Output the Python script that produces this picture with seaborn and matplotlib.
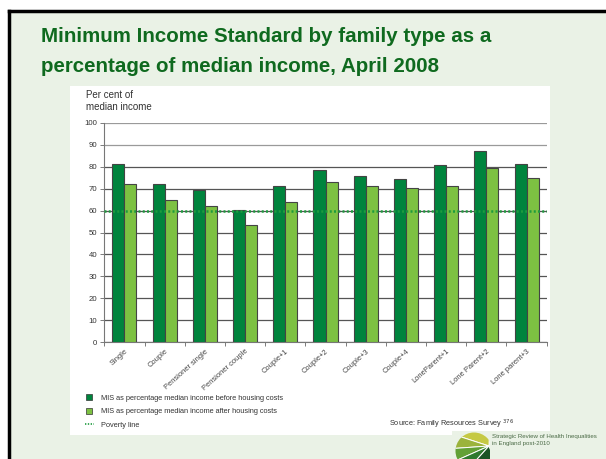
import matplotlib
matplotlib.use("Agg")
import matplotlib.pyplot as plt
from matplotlib.lines import Line2D
from matplotlib.patches import Rectangle, Wedge, Circle
import seaborn as sns
import pandas as pd
import numpy as np

# Data
family_types = ["Single", "Couple", "Pensioner single", "Pensioner couple",
                "Couple+1", "Couple+2", "Couple+3", "Couple+4",
                "LoneParent+1", "Lone Parent+2", "Lone parent+3"]
before_housing = [81.0, 72.0, 69.5, 60.4, 71.2, 78.5, 75.7, 74.2, 80.6, 87.1, 81.2]
after_housing = [71.9, 64.6, 61.9, 53.3, 63.9, 72.8, 71.2, 70.3, 71.2, 79.2, 74.8]
poverty_line = 60
series_names = ["MIS as percentage median income before housing costs",
                "MIS as percentage median income after housing costs"]
y_ticks = list(range(0, 101, 10))

DARK = "#00843D"
LIGHT = "#7DC142"
BG = "#EAF2E6"
TITLE = "#0F6A1F"

W, H = 606, 459
plt.rcParams["font.family"] = ["Liberation Sans", "DejaVu Sans"]

fig = plt.figure(figsize=(W / 100, H / 100), dpi=100)
fig.patch.set_facecolor("white")


def fx(x):
    return x / W


def fy(y):
    return 1 - y / H


# slide background and frame
fig.add_artist(Rectangle((fx(8), 0), 1 - fx(8), fy(11), transform=fig.transFigure,
                         facecolor=BG, edgecolor="none", zorder=0))
fig.add_artist(Line2D([fx(8.5), fx(8.5)], [0, fy(11)], transform=fig.transFigure,
                      color="black", lw=2.5, zorder=1))
fig.add_artist(Line2D([fx(8.5), 1], [fy(11), fy(11)], transform=fig.transFigure,
                      color="black", lw=2.5, zorder=1))

# white chart panel
fig.add_artist(Rectangle((fx(70), fy(435)), fx(550) - fx(70), fy(86) - fy(435),
                         transform=fig.transFigure, facecolor="white",
                         edgecolor="none", zorder=1))

fig.text(fx(41), fy(37), "Minimum Income Standard by family type as a",
         ha="left", va="center", fontsize=14.8, fontweight="bold", color=TITLE, zorder=3)
fig.text(fx(41), fy(67), "percentage of median income, April 2008",
         ha="left", va="center", fontsize=14.8, fontweight="bold", color=TITLE, zorder=3)

# chart
df = pd.DataFrame({
    "family": family_types * 2,
    "value": before_housing + after_housing,
    "series": [series_names[0]] * len(family_types) + [series_names[1]] * len(family_types),
})

ax = fig.add_axes([fx(104.3), fy(342.3), fx(546.7) - fx(104.3), fy(122.7) - fy(342.3)])
ax.set_facecolor("white")
ax.set_zorder(2)
sns.barplot(data=df, x="family", y="value", hue="series", order=family_types,
            hue_order=series_names, palette=[DARK, LIGHT], saturation=1, width=0.6,
            edgecolor="#444444", linewidth=0.8, legend=False, ax=ax, zorder=3)

ax.axhline(poverty_line, color="#1E9B3E", lw=1.8, linestyle=(0, (0.8, 0.9)), zorder=4)

ax.set_ylim(0, 100)
ax.set_xlim(-0.5, len(family_types) - 0.5)
ax.set_yticks(y_ticks)
ax.set_yticklabels([str(t) for t in y_ticks], fontsize=5.6, color="#333333")
ax.yaxis.grid(True, lw=0.9)
for val, gl in zip(y_ticks, ax.get_ygridlines()):
    gl.set_color("#9a9a9a" if val >= 90 else "#555555")
ax.set_axisbelow(True)
ax.tick_params(axis="y", length=3, width=0.6, color="#666666", pad=2)

ax.set_xticks(range(len(family_types)))
ax.set_xticklabels(family_types, rotation=42, ha="right", rotation_mode="anchor",
                   fontsize=5.4, color="#444444")
ax.tick_params(axis="x", which="major", length=0, pad=4)
ax.set_xticks(np.arange(-0.5, len(family_types)), minor=True)
ax.tick_params(axis="x", which="minor", length=3, width=0.6, color="#666666")
ax.set_xlabel("")
ax.set_ylabel("")
for side in ["top", "right"]:
    ax.spines[side].set_visible(False)
for side in ["left", "bottom"]:
    ax.spines[side].set_color("#777777")
    ax.spines[side].set_linewidth(0.8)

fig.text(fx(86), fy(90), "Per cent of\nmedian income", ha="left", va="top",
         fontsize=7, color="#333333", linespacing=1.25, zorder=3)

# legend
handles = [
    Line2D([], [], marker="s", markersize=5, markerfacecolor=DARK,
           markeredgecolor="#333333", markeredgewidth=0.5, linestyle="none"),
    Line2D([], [], marker="s", markersize=5, markerfacecolor=LIGHT,
           markeredgecolor="#333333", markeredgewidth=0.5, linestyle="none"),
    Line2D([], [], color="#1E9B3E", lw=1.2, linestyle=(0, (0.8, 0.9))),
]
labels = series_names + ["Poverty line"]
leg = fig.legend(handles, labels, loc="upper left", bbox_to_anchor=(fx(81), fy(391)),
                 frameon=False, fontsize=5.3, handlelength=1.2, handletextpad=1.0,
                 labelspacing=0.85, borderpad=0)
for t in leg.get_texts():
    t.set_color("#333333")
leg.set_zorder(3)

fig.text(fx(389), fy(424), "Source: Family Resources Survey $^{376}$", ha="left",
         va="center", fontsize=5.3, color="#333333", zorder=3)

# logo: round emblem with bands fanning out from its right edge
fig.add_artist(Rectangle((fx(452), 0), 1 - fx(452), fy(431), transform=fig.transFigure,
                         facecolor=BG, edgecolor="none", zorder=3))
lax = fig.add_axes([fx(450), 0, fx(490) - fx(450), fy(429)])
lax.set_xlim(450, 490)
lax.set_ylim(0, H - 429)
lax.axis("off")
lax.set_zorder(4)
disc = Circle((474, H - 451), 18.5, transform=lax.transData)
fan_x, fan_y = 489, H - 446
bands = [(88, 162, "#C5C944"), (162, 184, "#9BB33C"), (184, 204, "#62A036"),
         (204, 228, "#2F7A2E"), (228, 290, "#1A5424")]
for a0, a1, col in bands:
    w = Wedge((fan_x, fan_y), 50, a0, a1, facecolor=col, edgecolor="white", lw=0.7)
    lax.add_patch(w)
    w.set_clip_path(disc)
fig.text(fx(492), fy(440), "Strategic Review of Health Inequalities\nin England post-2010",
         ha="left", va="center", fontsize=4.4, color="#4a6a45", linespacing=1.3, zorder=5)

fig.savefig("out.png", dpi=100, facecolor=fig.get_facecolor())
